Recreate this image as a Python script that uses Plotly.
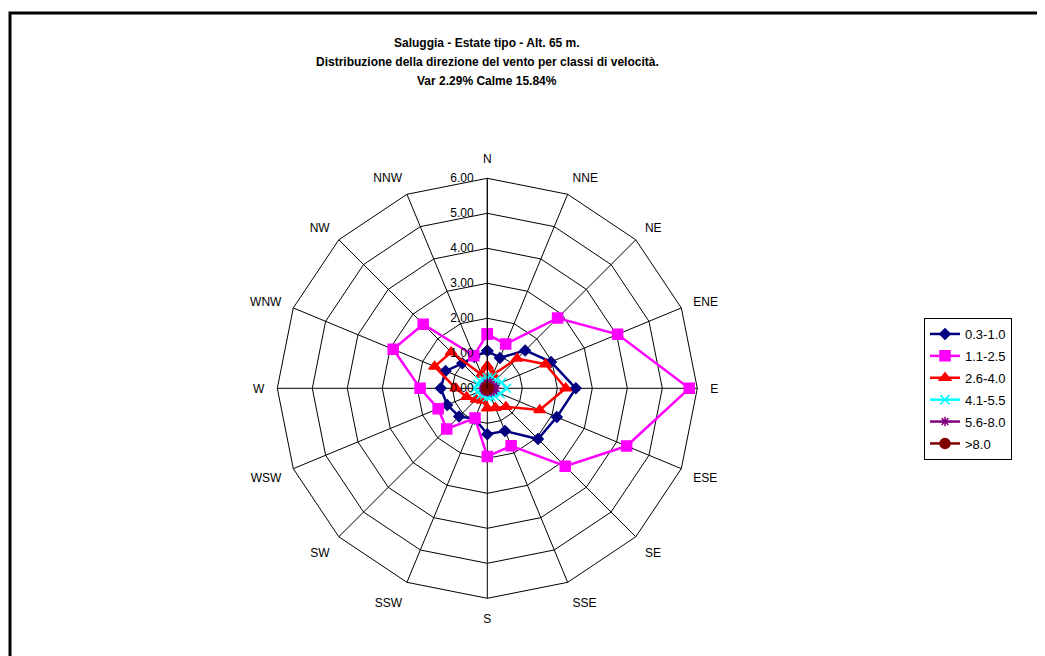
import plotly.graph_objects as go

directions = ["N", "NNE", "NE", "ENE", "E", "ESE", "SE", "SSE",
              "S", "SSW", "SW", "WSW", "W", "WNW", "NW", "NNW"]

s_03_10 = [1.07, 0.94, 1.53, 1.97, 2.53, 2.15, 2.05, 1.32,
           1.31, 0.94, 1.14, 1.24, 1.33, 1.29, 1.01, 0.97]
s_11_25 = [1.55, 1.37, 2.84, 4.03, 5.77, 4.31, 3.15, 1.78,
           1.95, 0.92, 1.64, 1.52, 1.92, 2.91, 2.59, 1.01]
s_26_40 = [0.64, 0.42, 1.20, 1.80, 2.24, 1.62, 0.75, 0.60,
           0.57, 0.38, 0.45, 0.64, 0.90, 1.63, 1.46, 0.43]
s_41_55 = [0.30, 0.35, 0.30, 0.45, 0.55, 0.40, 0.30, 0.25,
           0.25, 0.20, 0.25, 0.30, 0.35, 0.30, 0.30, 0.25]
s_56_80 = [0.15, 0.20, 0.15, 0.20, 0.25, 0.20, 0.15, 0.10,
           0.10, 0.10, 0.10, 0.10, 0.10, 0.10, 0.10, 0.10]
s_gt_80 = [0.02, 0.02, 0.02, 0.02, 0.02, 0.02, 0.02, 0.02,
           0.02, 0.02, 0.02, 0.02, 0.02, 0.02, 0.02, 0.02]

series_names = ["0.3-1.0", "1.1-2.5", "2.6-4.0", "4.1-5.5", "5.6-8.0", ">8.0"]
radial_ticks = [0, 1, 2, 3, 4, 5, 6]
title_lines = [
    "Saluggia - Estate tipo - Alt. 65 m.",
    "Distribuzione della direzione del vento per classi di velocità.",
    "Var 2.29% Calme 15.84%",
]

series = [
    (series_names[0], s_03_10, "#000080", "diamond", 8, 2.5),
    (series_names[1], s_11_25, "#FF00FF", "square", 10, 2.5),
    (series_names[2], s_26_40, "#FF0000", "triangle-up", 10, 2.5),
    (series_names[3], s_41_55, "#00FFFF", "x-thin", 9, 2.5),
    (series_names[4], s_56_80, "#800080", "asterisk", 8, 2.5),
    (series_names[5], s_gt_80, "#800000", "circle", 10, 2.5),
]

W, H = 1045, 656
# page offset of the figure inside the browser page (body margin)
OFF = 8

fig = go.Figure()
for name, vals, color, sym, msize, lw in series:
    fig.add_trace(go.Scatterpolar(
        r=vals + vals[:1],
        theta=directions + directions[:1],
        mode="lines+markers",
        name=name,
        legendgroup=name,
        line=dict(color=color, width=lw),
        marker=dict(symbol=sym, size=msize, color=color,
                    line=dict(color=color, width=1.5)),
    ))

cx, cy, R = 487.3 - OFF, 388.3 - OFF, 210
annotations = []
for i, line in enumerate(title_lines):
    yy = 43 + 19 * i - OFF
    annotations.append(dict(
        text="<b>" + line + "</b>", x=(487 - OFF) / W, y=1 - yy / H,
        xref="paper", yref="paper", xanchor="center", yanchor="middle",
        showarrow=False, font=dict(size=12),
    ))

fig.update_layout(
    width=W, height=H,
    margin=dict(l=0, r=0, t=0, b=0),
    paper_bgcolor="white",
    plot_bgcolor="white",
    font=dict(family="Liberation Sans, Arial, sans-serif", size=12, color="black"),
    polar=dict(
        domain=dict(x=[(cx - R) / W, (cx + R) / W],
                    y=[1 - (cy + R) / H, 1 - (cy - R) / H]),
        gridshape="linear",
        bgcolor="white",
        angularaxis=dict(
            type="category",
            categoryarray=directions,
            rotation=90,
            direction="clockwise",
            showgrid=True, gridcolor="black", gridwidth=1,
            showline=True, linecolor="black", linewidth=1,
            ticks="outside", ticklen=10, tickcolor="rgba(0,0,0,0)",
            tickfont=dict(size=12),
        ),
        radialaxis=dict(
            range=[0, 6],
            tickvals=radial_ticks,
            tickformat=".2f",
            angle=90,
            tickangle=90,
            side="counterclockwise",
            showgrid=True, gridcolor="black", gridwidth=1,
            showline=True, linecolor="black", linewidth=1,
            ticks="outside", ticklen=9, tickcolor="rgba(0,0,0,0)",
            tickfont=dict(size=12),
        ),
    ),
    legend=dict(
        x=(924 - OFF) / W, y=1 - (318 - OFF) / H, xanchor="left", yanchor="top",
        bordercolor="black", borderwidth=1, bgcolor="white",
        font=dict(size=13), tracegroupgap=2,
        entrywidth=88, entrywidthmode="pixels",
    ),
    annotations=annotations,
    shapes=[dict(
        type="rect", xref="paper", yref="paper",
        x0=(10 - OFF) / W, x1=(1040 - OFF) / W, y0=-0.05, y1=1 - (13 - OFF) / H,
        line=dict(color="black", width=3), fillcolor="rgba(0,0,0,0)",
    )],
)

fig.write_html("out.html")
